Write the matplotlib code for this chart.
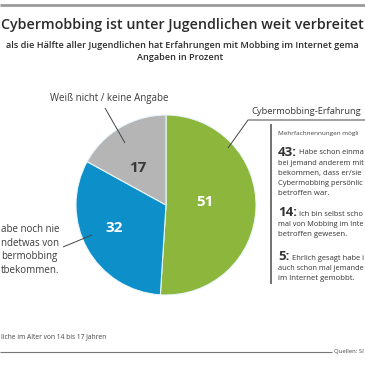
import matplotlib
matplotlib.use("Agg")
import matplotlib.pyplot as plt
from matplotlib.lines import Line2D

# ---- data (text as visible in the cropped reference) ----
slice_labels = ["Cybermobbing-Erfahrung", "Habe noch nie etwas von Cybermobbing mitbekommen", "Weiß nicht / keine Angabe"]
slice_values = [51, 32, 17]
slice_colors = ["#8db63c", "#0d8fc9", "#b5b5b5"]
value_text_colors = ["white", "white", "#3a3a3a"]

blue_label_lines = ["abe noch nie", "ndetwas von", "bermobbing", "tbekommen."]

detail_values = [43, 14, 5]
detail_texts = [
    ["Habe schon einma", "bei jemand anderem mit", "bekommen, dass er/sie", "Cybermobbing persönlic", "betroffen war."],
    ["Ich bin selbst scho", "mal von Mobbing im Inte", "betroffen gewesen."],
    ["Ehrlich gesagt habe i", "auch schon mal jemande", "im Internet gemobbt."],
]

title = "Cybermobbing ist unter Jugendlichen weit verbreitet"
subtitle = "als die Hälfte aller Jugendlichen hat Erfahrungen mit Mobbing im Internet gema"
unit_note = "Angaben in Prozent"
multi_note = "Mehrfachnennungen mögli"
base_note = "liche im Alter von 14 bis 17 Jahren"
source_note = "Quellen: SI"

FONT = ["Open Sans", "DejaVu Sans"]
W = H = 365
fig = plt.figure(figsize=(3.65, 3.65), dpi=100)
fig.patch.set_facecolor("white")

# pie axes: center (166,205) px, radius 90 px
cx, cy, r = 166, 205, 90
pax = fig.add_axes([(cx - r) / W, (H - cy - r) / H, 2 * r / W, 2 * r / H], zorder=1)
wedges, _ = pax.pie(slice_values, colors=slice_colors, startangle=90, counterclock=False,
                    wedgeprops=dict(edgecolor="#e8f6fb", linewidth=0.8))
pax.set_xlim(-1, 1); pax.set_ylim(-1, 1); pax.set_aspect("equal")
pax.axis("off")

# overlay in pixel coordinates
ax = fig.add_axes([0, 0, 1, 1], zorder=2)
ax.set_xlim(0, W); ax.set_ylim(H, 0)
ax.axis("off")

renderer = fig.canvas.get_renderer()
texts = []

def T(x, y, s, size=7, weight="normal", color="#3a3a3a", ha="left", va="center", **kw):
    t = ax.text(x, y, s, fontsize=size, fontweight=weight, color=color, ha=ha, va=va,
                family=FONT, **kw)
    texts.append(t)
    return t

def L(xs, ys, color="#555555", lw=0.8):
    ax.add_line(Line2D(xs, ys, color=color, lw=lw, solid_capstyle="butt"))

# top rule
L([0, W], [5, 5], color="#9a9a9a", lw=2)

T(182, 25, title, size=10.25, weight="semibold", color="#2b2b2b", ha="center")
T(182, 46, subtitle, size=6.6, weight="semibold", color="#2b2b2b", ha="center")
T(180, 58, unit_note, size=6.6, weight="semibold", color="#2b2b2b", ha="center")

# values in pie
value_pos = [(205, 202), (114, 228), (138, 168)]
for v, (x, y), c in zip(slice_values, value_pos, value_text_colors):
    T(x, y, str(v), size=11, weight="bold", color=c, ha="center")

# gray label
T(50, 98, slice_labels[2], size=7, color="#3a3a3a")
L([105, 125], [108, 143], color="#444444", lw=0.7)

# blue label (left part cropped in reference)
for i, s in enumerate(blue_label_lines):
    T(1, 230 + 13.5 * i, s, size=7, color="#3a3a3a")
L([63, 92], [247, 235], color="#444444", lw=0.7)

# green label
T(251, 112, slice_labels[0], size=7, color="#3a3a3a")
L([228, 248, W], [148, 120, 120], color="#444444", lw=0.7)
L([271, 271], [124, 284], color="#666666", lw=1.3)

T(278, 134, multi_note, size=4.6, color="#444444")
block_y = [152, 213, 257]
num_w = [21, 21, 14]
for v, lines, y0, nw in zip(detail_values, detail_texts, block_y, num_w):
    T(278, y0, f"{v}:", size=9.5, weight="bold", color="#333333")
    for i, s in enumerate(lines):
        x = 278 + nw if i == 0 else 278
        T(x, y0 + 1 + 10.2 * i, s, size=5.6, color="#333333")

# footer
T(1, 337, base_note, size=4.8, color="#444444")
L([0, 332], [352, 352], color="#777777", lw=0.8)
T(334, 351, source_note, size=5.3, color="#444444")

# keep every text inside the canvas: shrink if it overflows
for t in texts:
    for _ in range(30):
        bb = t.get_window_extent(renderer)
        if bb.x0 >= 0.5 and bb.x1 <= W - 0.5:
            break
        t.set_fontsize(t.get_fontsize() * 0.97)

fig.savefig("out.png", dpi=100, facecolor="white")
